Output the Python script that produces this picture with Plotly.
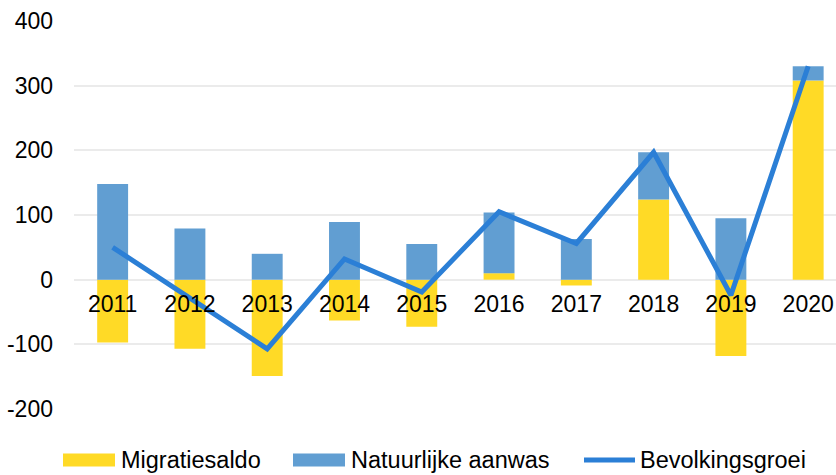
import plotly.graph_objects as go

years = ["2011", "2012", "2013", "2014", "2015", "2016", "2017", "2018", "2019", "2020"]
migratiesaldo = [-97, -107, -149, -63, -73, 10, -9, 124, -118, 308]
natuurlijke_aanwas = [148, 79, 40, 89, 55, 94, 63, 73, 95, 22]
bevolkingsgroei = [50, -28, -107, 32, -19, 105, 56, 197, -24, 330]
y_ticks = [-200, -100, 0, 100, 200, 300, 400]
y_tick_labels = ["-200", "-100", "0", "100", "200", "300", "400"]
legend_names = ["Migratiesaldo", "Natuurlijke aanwas", "Bevolkingsgroei"]

YELLOW = "#FFDA26"
BLUE_BAR = "#619ED2"
BLUE_LINE = "#2B7FD6"
FONT = "Liberation Sans, Arial, sans-serif"
FS = 23

fig = go.Figure()
fig.add_trace(go.Bar(x=years, y=migratiesaldo, name=legend_names[0],
                     marker=dict(color=YELLOW, line=dict(width=0)), width=0.4))
fig.add_trace(go.Bar(x=years, y=natuurlijke_aanwas, name=legend_names[1],
                     marker=dict(color=BLUE_BAR, line=dict(width=0)), width=0.4))
fig.add_trace(go.Scatter(x=years, y=bevolkingsgroei, name=legend_names[2], mode="lines",
                         line=dict(color=BLUE_LINE, width=5)))

# Manual legend (plot area: x 74..836 px, y 21..409 px)
L, R, T, B = 74, 836, 21, 409
px = lambda x: (x - L) / (R - L)
py = lambda y: (B - y) / (B - T)
ly = 460
shapes = [
    dict(type="rect", xref="paper", yref="paper", x0=px(63), x1=px(115), y0=py(ly + 6.5), y1=py(ly - 6.5),
         fillcolor=YELLOW, line=dict(width=0)),
    dict(type="rect", xref="paper", yref="paper", x0=px(293), x1=px(345), y0=py(ly + 6.5), y1=py(ly - 6.5),
         fillcolor=BLUE_BAR, line=dict(width=0)),
    dict(type="line", xref="paper", yref="paper", x0=px(584), x1=px(635), y0=py(ly), y1=py(ly),
         line=dict(color=BLUE_LINE, width=5)),
]
annotations = [
    dict(text=name, xref="paper", yref="paper", x=px(xx), y=py(ly), xanchor="left", yanchor="middle",
         showarrow=False, font=dict(size=FS + 0.5, color="#000000"))
    for name, xx in zip(legend_names, [119, 349, 638])
]

fig.update_layout(
    width=836, height=475,
    margin=dict(l=L, r=836 - R, t=T, b=475 - B, autoexpand=False),
    paper_bgcolor="white", plot_bgcolor="white",
    barmode="relative", bargap=0.6,
    font=dict(family=FONT, size=FS, color="#000000"),
    showlegend=False,
    shapes=shapes, annotations=annotations,
    xaxis=dict(type="category", range=[-0.5, 9.36], anchor="free", position=1/3,
               showgrid=False, showline=False, zeroline=False, ticks="",
               ticklabelstandoff=8, tickfont=dict(size=FS)),
    yaxis=dict(range=[-200, 400], tickvals=y_ticks, ticktext=y_tick_labels,
               showgrid=True, gridcolor="#EBEBEB",
               gridwidth=1.5, zeroline=True, zerolinecolor="#EBEBEB", zerolinewidth=1.5,
               showline=False, ticks="", ticklabelstandoff=20, tickfont=dict(size=FS)),
)

fig.write_html("out.html", config={"displayModeBar": False},
               post_script="document.body.style.margin='0';document.body.style.overflow='hidden';")
